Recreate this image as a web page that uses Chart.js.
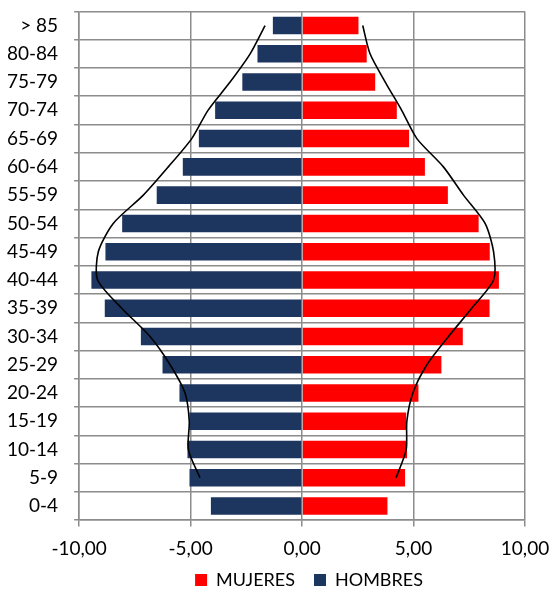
<!DOCTYPE html>
<html>
<head>
<meta charset="utf-8">
<script src="https://cdn.jsdelivr.net/npm/chart.js@4.4.0/dist/chart.umd.min.js"></script>
<style>
  html, body { margin: 0; padding: 0; background: #fff; }
  #wrap { width: 550px; height: 589px; }
</style>
</head>
<body>
<div id="wrap"><canvas id="pyramid"></canvas></div>
<script>
var ageGroups = ['> 85', '80-84', '75-79', '70-74', '65-69', '60-64', '55-59', '50-54', '45-49',
  '40-44', '35-39', '30-34', '25-29', '20-24', '15-19', '10-14', '5-9', '0-4'];
var mujeres = [2.53, 2.90, 3.28, 4.25, 4.80, 5.51, 6.54, 7.92, 8.42,
  8.83, 8.41, 7.21, 6.25, 5.22, 4.67, 4.71, 4.62, 3.83];
var hombres = [-1.31, -2.00, -2.68, -3.90, -4.63, -5.35, -6.52, -8.07, -8.82,
  -9.45, -8.85, -7.23, -6.26, -5.50, -5.05, -5.14, -5.05, -4.09];
// perfiles de referencia (lineas negras)
var refMujeres = [2.72, 3.05, 3.73, 4.47, 5.15, 6.34, 7.24, 8.21, 8.59,
  8.59, 7.61, 6.57, 5.60, 4.97, 4.70, 4.67, 4.22, null];
var refHombres = [-1.66, -2.33, -3.23, -4.22, -4.95, -6.00, -7.12, -8.47, -9.14,
  -9.17, -8.09, -6.82, -5.92, -5.25, -5.06, -5.10, -4.58, null];
var xTicks = [-10, -5, 0, 5, 10];

var gridColor = '#8c8c8c';

// la leyenda del original no esta centrada en el lienzo
var legendShift = {
  id: 'legendShift',
  afterLayout: function (chart) {
    chart.legend.left += 43;
    chart.legend.right += 43;
    chart.legend.top -= 8;
    chart.legend.bottom -= 8;
  },
};

var ctx = document.getElementById('pyramid');
var chart = new Chart(ctx, {
  type: 'bar',
  data: {
    labels: ageGroups,
    datasets: [
      {
        label: 'MUJERES',
        data: mujeres,
        backgroundColor: '#FF0000',
        grouped: false,
        categoryPercentage: 1,
        barPercentage: 0.62,
        order: 1,
      },
      {
        label: 'HOMBRES',
        data: hombres,
        backgroundColor: '#1C3660',
        grouped: false,
        categoryPercentage: 1,
        barPercentage: 0.62,
        order: 1,
      },
      {
        type: 'line',
        label: 'refM',
        data: refMujeres,
        borderColor: '#000',
        borderWidth: 1.6,
        pointRadius: 0,
        tension: 0.25,
        fill: false,
        order: 0,
      },
      {
        type: 'line',
        label: 'refH',
        data: refHombres,
        borderColor: '#000',
        borderWidth: 1.6,
        pointRadius: 0,
        tension: 0.25,
        fill: false,
        order: 0,
      },
    ],
  },
  plugins: [legendShift],
  options: {
    indexAxis: 'y',
    responsive: true,
    maintainAspectRatio: false,
    animation: false,
    layout: {
      padding: { top: 0, right: 25, left: 7, bottom: -18 },
    },
    plugins: {
      tooltip: { enabled: false },
      legend: {
        position: 'bottom',
        labels: {
          filter: function (item) {
            return item.datasetIndex < 2;
          },
          boxWidth: 12,
          boxHeight: 12,
          padding: 19,
          color: '#000',
          font: { family: 'Lato', size: 18 },
        },
      },
    },
    scales: {
      x: {
        min: -10,
        max: 10,
        afterBuildTicks: function (axis) {
          axis.ticks = xTicks.map(function (v) { return { value: v }; });
        },
        grid: {
          color: gridColor,
          lineWidth: 1.5,
          tickLength: 17,
          tickBorderDash: [6, 100],
        },
        border: { color: gridColor, width: 1.5 },
        ticks: {
          color: '#000',
          padding: 0,
          font: { family: 'Lato', size: 19 },
          callback: function (value) {
            return value.toFixed(2).replace('.', ',');
          },
        },
      },
      y: {
        grid: {
          color: gridColor,
          lineWidth: 1.5,
          tickLength: 21,
          tickBorderDash: [0, 16, 5, 100],
          offset: true,
        },
        border: { color: gridColor, width: 1.5 },
        ticks: {
          color: '#000',
          padding: 0,
          font: { family: 'Lato', size: 19 },
        },
      },
    },
  },
});
</script>
</body>
</html>
